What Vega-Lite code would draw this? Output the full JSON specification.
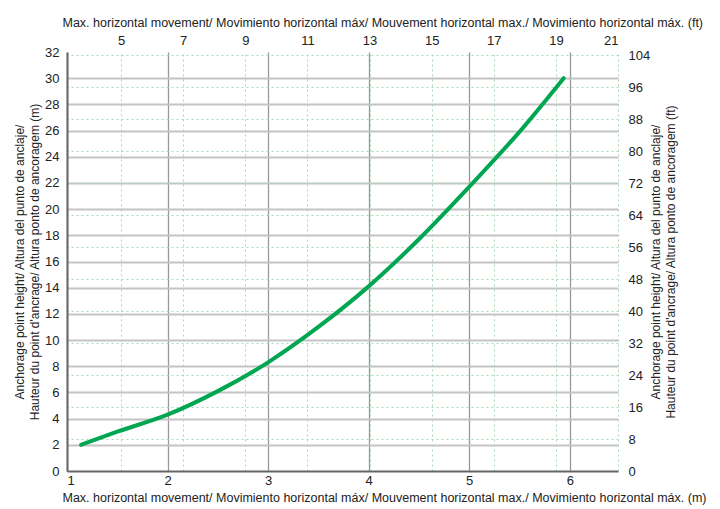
{
  "$schema": "https://vega.github.io/schema/vega-lite/v6.json",
  "width": 551,
  "height": 419,
  "autosize": {"type": "none"},
  "padding": {"left": 67, "top": 52, "right": 102, "bottom": 38},
  "background": "white",
  "config": {
    "view": {"stroke": null},
    "font": "Liberation Sans",
    "axis": {
      "labelFont": "Liberation Sans",
      "titleFont": "Liberation Sans",
      "labelFontSize": 13,
      "titleFontSize": 12,
      "titleFontWeight": "normal",
      "labelColor": "#222",
      "titleColor": "#222",
      "ticks": false,
      "titleLineHeight": 15
    }
  },
  "data": {
    "values": [
      {"m": 1.14, "h": 2.0, "ft": 3.74, "hft": 6.56},
      {"m": 1.5, "h": 3.0, "ft": 4.92, "hft": 9.84},
      {"m": 2.0, "h": 4.3, "ft": 6.56, "hft": 14.11},
      {"m": 2.5, "h": 6.1, "ft": 8.2, "hft": 20.01},
      {"m": 3.0, "h": 8.3, "ft": 9.84, "hft": 27.23},
      {"m": 3.5, "h": 11.0, "ft": 11.48, "hft": 36.09},
      {"m": 4.0, "h": 14.1, "ft": 13.12, "hft": 46.26},
      {"m": 4.5, "h": 17.7, "ft": 14.76, "hft": 58.07},
      {"m": 5.0, "h": 21.7, "ft": 16.4, "hft": 71.19},
      {"m": 5.5, "h": 25.9, "ft": 18.04, "hft": 84.97},
      {"m": 5.94, "h": 30.0, "ft": 19.49, "hft": 98.43}
    ]
  },
  "layer": [
    {
      "mark": {"type": "line", "color": "#00a650", "strokeWidth": 4, "strokeCap": "round", "interpolate": "monotone"},
      "encoding": {
        "x": {
          "field": "m", "type": "quantitative",
          "scale": {"domain": [1, 6.48], "nice": false, "zero": false},
          "axis": {
            "orient": "bottom",
            "values": [1, 2, 3, 4, 5, 6],
            "title": "Max. horizontal movement/ Movimiento horizontal máx/ Mouvement horizontal max./ Movimiento horizontal máx. (m)",
            "titleFontSize": 12.5,
            "titleAnchor": "start",
            "titleAlign": "left",
            "titleX": -5,
            "labelPadding": 3,
            "titlePadding": 4,
            "domainColor": "#666",
            "domainWidth": 2,
            "grid": true,
            "gridColor": "#999",
            "gridWidth": 1.3
          }
        },
        "y": {
          "field": "h", "type": "quantitative",
          "scale": {"domain": [0, 32], "nice": false},
          "axis": {
            "orient": "left",
            "values": [0, 2, 4, 6, 8, 10, 12, 14, 16, 18, 20, 22, 24, 26, 28, 30, 32],
            "title": ["Anchorage point height/ Altura del punto de anclaje/", "Hauteur du point d'ancrage/ Altura ponto de ancoragem (m)"],
            "titleAngle": 270,
            "labelPadding": 8,
            "titlePadding": 3,
            "domainColor": "#666",
            "domainWidth": 2,
            "grid": true,
            "gridColor": {"condition": {"test": "datum.value === 32 || datum.value === 0", "value": "transparent"}, "value": "#c4c4c4"},
            "gridWidth": 2
          }
        }
      }
    },
    {
      "mark": {"type": "line", "opacity": 0},
      "encoding": {
        "x": {
          "field": "ft", "type": "quantitative",
          "scale": {"domain": [3.26, 21], "nice": false, "zero": false},
          "axis": {
            "orient": "top",
            "values": [5, 7, 9, 11, 13, 15, 17, 19, 21],
            "title": "Max. horizontal movement/ Movimiento horizontal máx/ Mouvement horizontal max./ Movimiento horizontal máx. (ft)",
            "titleFontSize": 12.5,
            "titleAnchor": "start",
            "titleAlign": "left",
            "titleX": -5,
            "labelPadding": 5,
            "titlePadding": 5,
            "domain": false,
            "grid": true,
            "gridColor": "#a9d9b4",
            "gridDash": [2, 3],
            "gridWidth": 1
          }
        },
        "y": {
          "field": "hft", "type": "quantitative",
          "scale": {"domain": [0, 104.75], "nice": false},
          "axis": {
            "orient": "right",
            "values": [0, 8, 16, 24, 32, 40, 48, 56, 64, 72, 80, 88, 96, 104],
            "title": ["Anchorage point height/ Altura del punto de anclaje/", "Hauteur du point d'ancrage/ Altura ponto de ancoragem (ft)"],
            "titleAngle": 270,
            "labelPadding": 10,
            "titlePadding": -2,
            "domain": false,
            "grid": true,
            "gridColor": {"condition": {"test": "datum.value === 0", "value": "transparent"}, "value": "#a9d9b4"},
            "gridDash": [2, 3],
            "gridWidth": 1
          }
        }
      }
    }
  ],
  "resolve": {"scale": {"x": "independent", "y": "independent"}}
}
